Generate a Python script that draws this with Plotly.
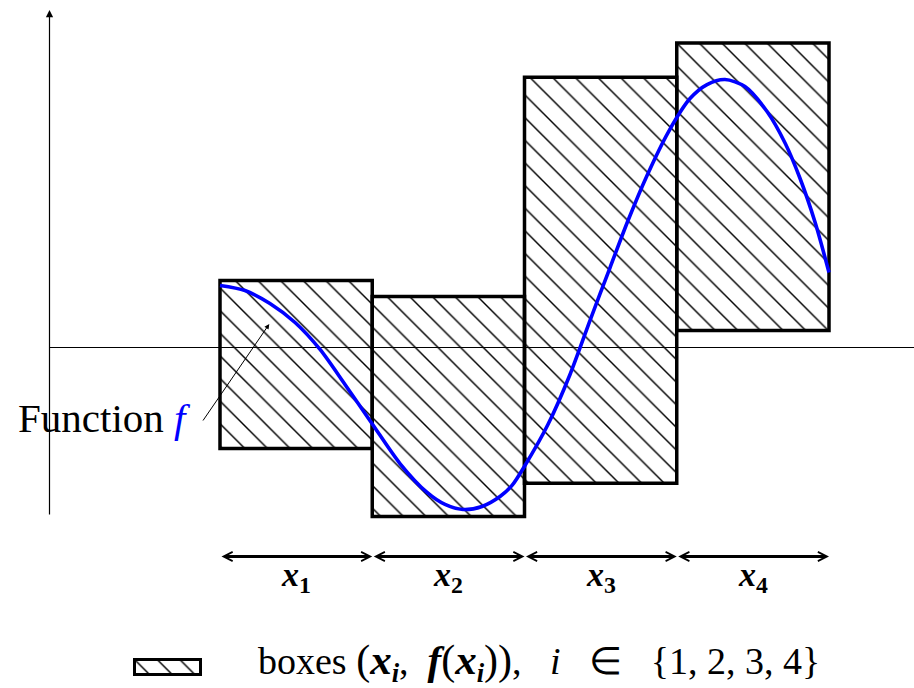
import plotly.graph_objects as go

W, H = 914, 688

# ---- data (units: one box width) ----
box_left = [1, 2, 3, 4]
box_low = [-0.663, -1.110, -0.891, 0.112]
box_high = [0.440, 0.335, 1.775, 2.000]
box_labels = ["1", "2", "3", "4"]

curve_x = [1.000, 1.164, 1.328, 1.493, 1.657, 1.821, 1.998, 2.182, 2.360, 2.478,
           2.596, 2.721, 2.839, 2.918, 3.003, 3.154, 3.299, 3.430, 3.562, 3.680,
           3.805, 3.943, 4.087, 4.199, 4.317, 4.448, 4.593, 4.713, 4.810, 4.909, 5.000]
curve_y = [0.407, 0.374, 0.289, 0.164, -0.013, -0.243, -0.499, -0.762, -0.952, -1.031,
           -1.064, -1.044, -0.979, -0.906, -0.775, -0.506, -0.177, 0.177, 0.525, 0.834,
           1.130, 1.412, 1.635, 1.727, 1.760, 1.714, 1.550, 1.340, 1.110, 0.821, 0.493]

# ---- pixel <-> data mapping (layout only) ----
U = 152.25               # pixels per unit
X0PX, Y0PX = 220, 347.5  # pixel of data point (1, 0)
def px(x):
    return 1 + (x - X0PX) / U
def py(y):
    return (Y0PX - y) / U

xr = [px(0), px(W)]
yr = [py(H), py(0)]

centers = [l + 0.5 for l in box_left]
heights = [h - l for h, l in zip(box_high, box_low)]

SERIF = "Liberation Serif"
HATCH = dict(shape="\\", size=16, solidity=0.09, fgcolor="#000000", fgopacity=1,
             bgcolor="rgba(255,255,255,0)", fillmode="overlay")

fig = go.Figure()

fig.add_trace(go.Bar(
    x=centers, y=heights, base=box_low, width=1,
    marker=dict(color="rgba(255,255,255,0)", line=dict(color="black", width=3.5),
                pattern=HATCH),
    hoverinfo="skip", showlegend=False))

fig.add_trace(go.Scatter(
    x=curve_x, y=curve_y, mode="lines",
    line=dict(color="#0000ff", width=3.6, shape="spline", smoothing=0.8),
    hoverinfo="skip", showlegend=False))

# legend swatch on its own small axes
sw_l, sw_r, sw_t, sw_b = 134.5, 200.5, 659.5, 674.5
pad = 8
fig.add_trace(go.Bar(
    x=[0], y=[1], base=[0], width=1, xaxis="x2", yaxis="y2",
    marker=dict(color="rgba(255,255,255,0)", line=dict(color="black", width=3),
                pattern=HATCH),
    hoverinfo="skip", showlegend=False))
swx = (sw_r - sw_l)
swy = (sw_b - sw_t)

annotations = []
# vertical axis with arrow
annotations.append(dict(x=px(49.5), y=py(10), ax=px(49.5), ay=py(516),
                        xref="x", yref="y", axref="x", ayref="y", text="",
                        showarrow=True, arrowhead=2, arrowsize=1.2, arrowwidth=1.2,
                        arrowcolor="black"))
# double arrows below boxes
ya = py(556.5)
for l, lab in zip(box_left, box_labels):
    annotations.append(dict(x=l + 1, y=ya, ax=l, ay=ya,
                            xref="x", yref="y", axref="x", ayref="y", text="",
                            showarrow=True, arrowhead=5, arrowside="end+start",
                            arrowsize=0.6, arrowwidth=3, arrowcolor="black"))
    annotations.append(dict(x=l + 0.5, y=py(577), xref="x", yref="y",
                            text="<b><i>x</i></b><sub><b>" + lab + "</b></sub>",
                            showarrow=False, font=dict(family=SERIF, size=34, color="black")))
# Function f annotation
annotations.append(dict(x=px(269.3), y=py(324), ax=px(202), ay=py(422),
                        xref="x", yref="y", axref="x", ayref="y", text="",
                        showarrow=True, arrowhead=2, arrowsize=1.0, arrowwidth=1,
                        arrowcolor="black"))
annotations.append(dict(x=px(16), y=py(418), xref="x", yref="y", xanchor="left",
                        yanchor="middle", showarrow=False,
                        text="Function <span style='color:#0000ff'><i>f</i></span>",
                        font=dict(family=SERIF, size=41, color="black")))
# legend text
def big(s, size):
    return "<span style='font-size:%dpx'>%s</span>" % (size, s)
BX = big("<b><i>x</i></b>", 43)
BF = big("<b><i>f</i></b>", 41)
SUBI = "<sub><b><i>i</i></b></sub>"
LP, RP = big("(", 42), big(")", 42)
legend_text = ("boxes " + LP + BX + SUBI + ",&nbsp; " + BF + LP + BX + SUBI +
               RP + RP + ",&nbsp;&nbsp; <i>i</i>&nbsp;&nbsp; ∈&nbsp;&nbsp; {1, 2, 3, 4}")
annotations.append(dict(x=px(256), y=py(662), xref="x", yref="y", xanchor="left",
                        yanchor="middle", showarrow=False, text=legend_text,
                        font=dict(family=SERIF, size=38, color="black")))

shapes = [dict(type="line", x0=px(49.5), x1=px(W + 20), y0=0, y1=0,
               xref="x", yref="y", layer="below", line=dict(color="black", width=1))]

fig.update_layout(
    width=W, height=H, margin=dict(l=0, r=0, t=0, b=0),
    paper_bgcolor="white", plot_bgcolor="rgba(0,0,0,0)",
    xaxis=dict(range=xr, visible=False, domain=[0, 1], fixedrange=True),
    yaxis=dict(range=yr, visible=False, domain=[0, 1], fixedrange=True),
    xaxis2=dict(range=[-0.5 - pad / swx, 0.5 + pad / swx], visible=False, anchor="y2",
                domain=[(sw_l - pad) / W, (sw_r + pad) / W], fixedrange=True),
    yaxis2=dict(range=[-pad / swy, 1 + pad / swy], visible=False, anchor="x2",
                domain=[1 - (sw_b + pad) / H, 1 - (sw_t - pad) / H], fixedrange=True),
    barmode="overlay", showlegend=False,
    annotations=annotations, shapes=shapes,
)

fig.write_html("out.html", config={"displayModeBar": False, "staticPlot": True},
               post_script="document.body.style.margin='0px';")
